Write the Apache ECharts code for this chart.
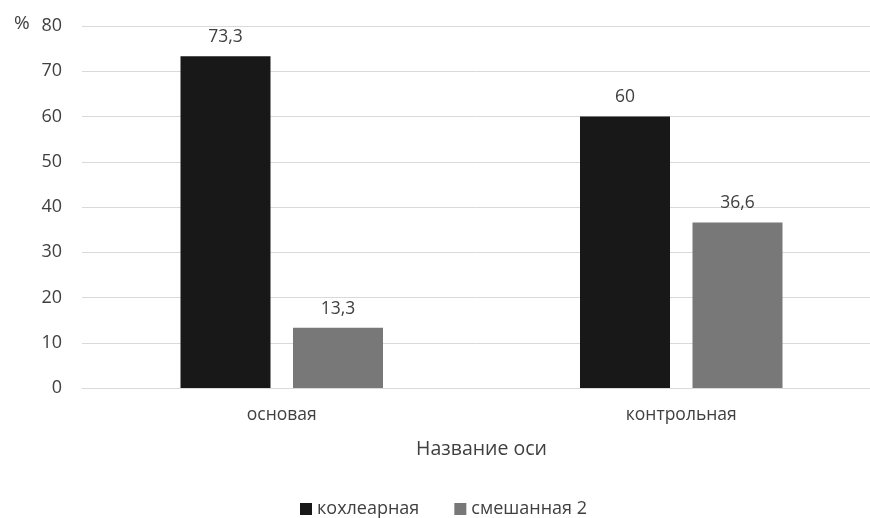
<!DOCTYPE html>
<html>
<head>
<meta charset="utf-8">
<script src="https://cdn.jsdelivr.net/npm/echarts@6/dist/echarts.min.js"></script>
<style>
  html, body { margin: 0; padding: 0; background: #fff; }
  #chart { width: 870px; height: 518px; }
</style>
</head>
<body>
<div id="chart"></div>
<script>
// Groups on the category axis
const categories = ['основая', 'контрольная'];
// Share of each hearing-loss type, %
const seriesNames = ['кохлеарная', 'смешанная 2'];
const cochlear = [73.3, 60];
const mixed = [13.3, 36.6];
// Value axis ticks
const yMin = 0, yMax = 80, yStep = 10;

const FONT = '"Open Sans", "Liberation Sans", sans-serif';
const fmt = v => String(v).replace('.', ',');

const chart = echarts.init(document.getElementById('chart'), null, { renderer: 'canvas' });

const labelCfg = {
  show: true,
  position: 'top',
  distance: 10,
  color: '#404040',
  fontFamily: FONT,
  fontSize: 17.5,
  formatter: p => fmt(p.value)
};

chart.setOption({
  animation: false,
  backgroundColor: '#ffffff',
  title: {
    text: '%',
    left: 9,
    top: 9,
    textStyle: { color: '#404040', fontFamily: FONT, fontSize: 19, fontWeight: 'normal' }
  },
  grid: { left: 82, top: 26, right: -11, bottom: 130, containLabel: false, outerBoundsMode: 'none' },
  legend: {
    data: seriesNames,
    top: 495,
    left: 295,
    itemWidth: 12,
    itemHeight: 12,
    itemGap: 35,
    icon: 'rect',
    textStyle: { color: '#404040', fontFamily: FONT, fontSize: 18 }
  },
  xAxis: {
    type: 'category',
    data: categories,
    name: 'Название оси',
    nameLocation: 'middle',
    nameGap: 51,
    nameTextStyle: { color: '#404040', fontFamily: FONT, fontSize: 19.5 },
    axisLine: { show: true, lineStyle: { color: '#d9d9d9', width: 1 } },
    axisTick: { show: false },
    axisLabel: { color: '#404040', fontFamily: FONT, fontSize: 17.5, margin: 18 }
  },
  yAxis: {
    type: 'value',
    min: yMin,
    max: yMax,
    interval: yStep,
    axisLine: { show: false },
    axisTick: { show: false },
    axisLabel: { color: '#404040', fontFamily: FONT, fontSize: 18, margin: 20 },
    splitLine: { lineStyle: { color: '#d9d9d9', width: 1 } }
  },
  series: [
    {
      name: seriesNames[0],
      type: 'bar',
      data: cochlear,
      barWidth: 90,
      barGap: '25%',
      itemStyle: { color: '#181818' },
      label: labelCfg
    },
    {
      name: seriesNames[1],
      type: 'bar',
      data: mixed,
      barWidth: 90,
      itemStyle: { color: '#787878' },
      label: labelCfg
    }
  ]
});
</script>
</body>
</html>
